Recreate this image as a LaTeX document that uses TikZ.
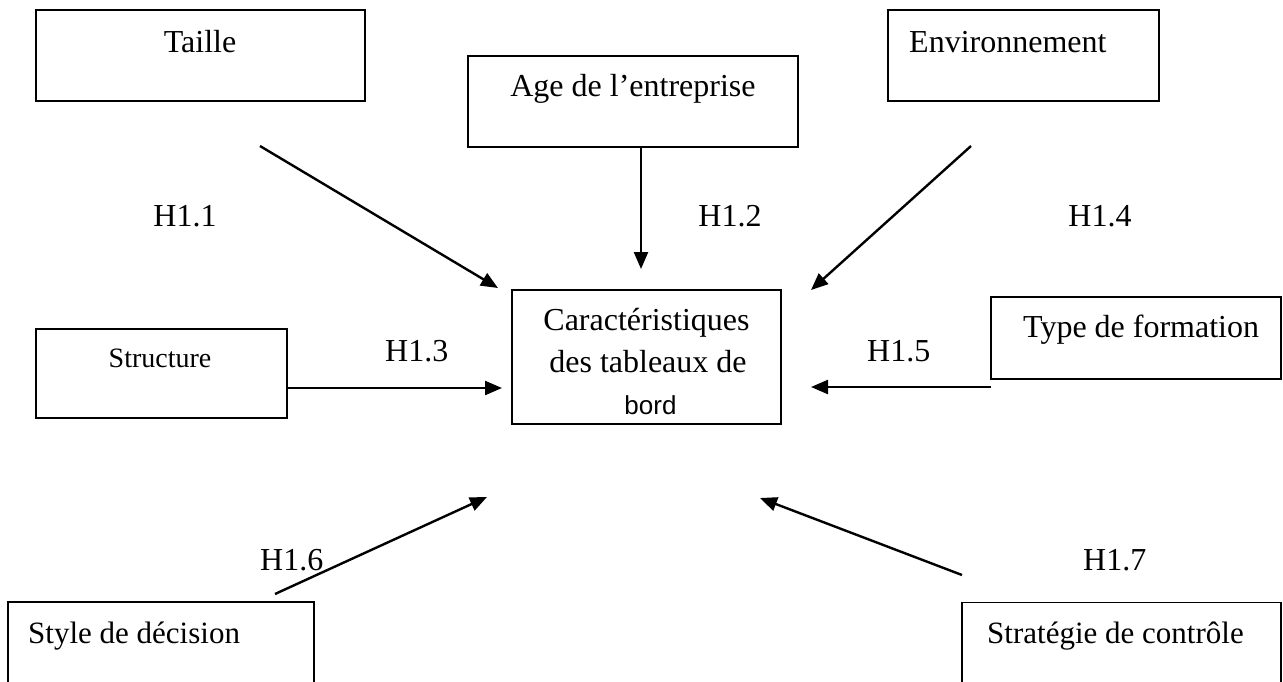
\documentclass[tikz,border=0pt]{standalone}
\usepackage{fontspec}
\setmainfont{Liberation Serif}
\newfontfamily\bordsans{Liberation Sans}
\usetikzlibrary{arrows.meta}
\begin{document}
\begin{tikzpicture}[x=1pt,y=-1pt,
  box/.style={draw,line width=1.6pt,inner sep=0pt,outer sep=0pt},
  lbl/.style={inner sep=0pt,anchor=base,font=\fontsize{32}{38}\selectfont},
  lblw/.style={lbl,anchor=base west},
  link/.style={line width=2.4pt,-{Triangle[length=17pt,width=14pt]}}]
\useasboundingbox (0,0) rectangle (1283,681);

% factor boxes
\node[box,minimum width=329pt,minimum height=91pt] (taille) at (200.5,55.5) {};
\node[box,minimum width=330pt,minimum height=91pt] (age) at (633,101.5) {};
\node[box,minimum width=271pt,minimum height=91pt] (env) at (1023.5,55.5) {};
\node[box,minimum width=251pt,minimum height=89pt] (struct) at (161.5,373.5) {};
\node[box,minimum width=290pt,minimum height=82pt] (type) at (1136,338) {};
\node[box,minimum width=306pt,minimum height=98pt] (style) at (161,651) {};
\node[box,minimum width=319pt,minimum height=98pt] (strat) at (1121.5,651.5) {};
% central box
\node[box,minimum width=269pt,minimum height=134pt] (car) at (646.5,357) {};

% box texts
\node[lbl] (tTaille) at (200,52) {Taille};
\node[lbl] (tAge) at (633,96) {Age de l’entreprise};
\node[lblw] (tEnv) at (909,52) {Environnement};
\node[lbl,font=\fontsize{28}{34}\selectfont] (tStruct) at (160,367) {Structure};
\node[lblw] (tType) at (1023,337) {Type de formation};
\node[lblw,font=\fontsize{31}{37}\selectfont] (tStyle) at (28,643) {Style de décision};
\node[lblw,font=\fontsize{31}{37}\selectfont] (tStrat) at (987,643) {Stratégie de contrôle};
\node[lbl] (tCar1) at (646.5,330) {Caractéristiques};
\node[lbl] (tCar2) at (648,372) {des tableaux de};
\node[lbl,font=\bordsans\fontsize{26}{31}\selectfont] (tCar3) at (650.5,414) {bord};

% hypothesis labels
\node[lbl] (h11) at (185,226) {H1.1};
\node[lbl] (h12) at (730,226) {H1.2};
\node[lbl] (h14) at (1100,226) {H1.4};
\node[lblw] (h13) at (385,361) {H1.3};
\node[lblw] (h15) at (867,361) {H1.5};
\node[lblw] (h16) at (260,570) {H1.6};
\node[lblw] (h17) at (1083,570) {H1.7};

% arrow end points
\coordinate (s1) at (260,146);  \coordinate (e1) at (498,288);
\coordinate (e2) at (641,269);
\coordinate (s4) at (971,146);  \coordinate (e4) at (811,290);
\coordinate (e3) at (502,388);
\coordinate (e5) at (811,387);
\coordinate (s6) at (275,594);  \coordinate (e6) at (487,497);
\coordinate (s7) at (962,575);  \coordinate (e7) at (760,498);

% influence arrows
\draw[link] (e2 |- age.south) -- (e2);
\draw[link] (s1) -- (e1);
\draw[link] (s4) -- (e4);
\draw[link] (struct.east |- e3) -- (e3);
\draw[link] (type.west |- e5) -- (e5);
\draw[link] (s6) -- (e6);
\draw[link] (s7) -- (e7);
\end{tikzpicture}
\end{document}
